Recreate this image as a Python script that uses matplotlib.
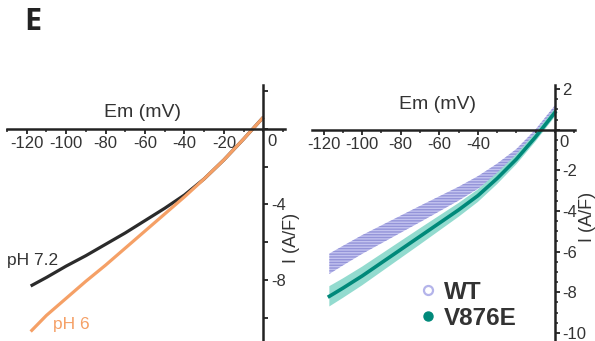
import numpy as np
import matplotlib
matplotlib.use("Agg")
import matplotlib.pyplot as plt
from matplotlib.lines import Line2D
from matplotlib.ticker import MultipleLocator

plt.rcParams['font.family'] = ['Liberation Sans', 'DejaVu Sans']

# ---------------- data ----------------
v_left = [-118, -110, -100, -90, -80, -70, -60, -50, -40, -30, -20, -10, 0]
i_ph72 = [-8.3, -7.85, -7.25, -6.7, -6.1, -5.5, -4.85, -4.2, -3.5, -2.65, -1.65, -0.55, 0.6]
i_ph6 = [-10.7, -9.85, -8.95, -8.05, -7.2, -6.3, -5.4, -4.5, -3.6, -2.65, -1.65, -0.55, 0.6]

v_right = [-117, -110, -100, -90, -80, -70, -60, -50, -40, -30, -20, -10, 0]
wt_mean = [-6.6, -6.2, -5.65, -5.15, -4.65, -4.15, -3.65, -3.15, -2.6, -1.95, -1.2, -0.2, 1.0]
wt_sem = [0.5, 0.48, 0.46, 0.44, 0.42, 0.40, 0.37, 0.34, 0.31, 0.28, 0.25, 0.22, 0.2]
mut_mean = [-8.2, -7.8, -7.2, -6.55, -5.9, -5.25, -4.6, -3.95, -3.25, -2.4, -1.45, -0.35, 0.85]
mut_sem = [0.5, 0.48, 0.46, 0.44, 0.42, 0.40, 0.37, 0.34, 0.31, 0.28, 0.25, 0.22, 0.2]

left_xticks = [-120, -100, -80, -60, -40, -20]
right_xticks = [-120, -100, -80, -60, -40]
left_yticks = [2, 0, -2, -4, -6, -8, -10]
left_ylabels = ['', '', '', '-4', '', '-8', '']
right_yticks = [2, 0, -2, -4, -6, -8, -10]
right_ylabels = ['2', '', '-2', '-4', '-6', '-8', '-10']

W, H = 595, 341
fig = plt.figure(figsize=(W / 100, H / 100), dpi=100)

def px_axes(x0, x1, y0, y1):
    return fig.add_axes([x0 / W, 1 - y1 / H, (x1 - x0) / W, (y1 - y0) / H])

AX_COL = '#222222'
TXT_COL = '#333333'

def style(ax, xlim, ylim):
    ax.set_xlim(*xlim)
    ax.set_ylim(*ylim)
    ax.patch.set_alpha(0)
    for s in ['top', 'left']:
        ax.spines[s].set_visible(False)
    ax.spines['bottom'].set_position(('data', 0))
    ax.spines['right'].set_position(('data', 0))
    for s in ['bottom', 'right']:
        ax.spines[s].set_color(AX_COL)
        ax.spines[s].set_linewidth(1.8)
    ax.yaxis.set_ticks_position('right')
    ax.xaxis.set_ticks_position('bottom')
    ax.tick_params(axis='both', which='major', direction='out', length=3.5, width=1.3,
                   color=AX_COL, labelsize=12, labelcolor=TXT_COL, pad=2)
    ax.tick_params(axis='both', which='minor', direction='out', length=2.2, width=1.1, color=AX_COL)

# ---------------- left panel ----------------
axL = px_axes(7, 285, 85, 341)
style(axL, (-130, 11), (-11.2, 2.3))
axL.set_xticks(left_xticks)
axL.set_xticklabels([str(t) for t in left_xticks])
axL.xaxis.set_minor_locator(MultipleLocator(10))
axL.set_yticks(left_yticks)
axL.set_yticklabels(left_ylabels)
axL.plot(v_left, i_ph72, color='#2b2b2b', lw=2.3, solid_capstyle='butt')
axL.plot(v_left, i_ph6, color='#f5a066', lw=2.3, solid_capstyle='butt')
axL.annotate('0', xy=(0, 0), xytext=(3, -4), textcoords='offset points',
             ha='left', va='top', fontsize=12, color=TXT_COL)

fig.text(143 / W, 1 - 113 / H, 'Em (mV)', ha='center', va='center', fontsize=14, color=TXT_COL)
fig.text(291 / W, 1 - 238 / H, 'I (A/F)', ha='center', va='center', rotation=90, fontsize=13, color=TXT_COL)
fig.text(7 / W, 1 - 261 / H, 'pH 7.2', ha='left', va='center', fontsize=12.5, color=TXT_COL)
fig.text(53 / W, 1 - 325 / H, 'pH 6', ha='left', va='center', fontsize=12.5, color='#f5a066')

# ---------------- right panel ----------------
axR = px_axes(312, 575, 85, 341)
style(axR, (-126, 10.4), (-10.4, 2.2))
axR.set_xticks(right_xticks)
axR.set_xticklabels([str(t) for t in right_xticks])
axR.xaxis.set_minor_locator(MultipleLocator(10))
axR.set_yticks(right_yticks)
axR.set_yticklabels(right_ylabels)
axR.yaxis.set_minor_locator(MultipleLocator(0.5))

v = np.array(v_right)
wm, ws = np.array(wt_mean), np.array(wt_sem)
mm, ms = np.array(mut_mean), np.array(mut_sem)
axR.fill_between(v, wm - ws, wm + ws, facecolor='#c3c3ef', edgecolor='#9494d9',
                 hatch='------', linewidth=0)
axR.fill_between(v, mm - ms, mm + ms, facecolor='#93dbcf', edgecolor='none')
axR.plot(v, mm, color='#00897a', lw=2.6)
axR.annotate('0', xy=(0, 0), xytext=(3, -4), textcoords='offset points',
             ha='left', va='top', fontsize=12, color=TXT_COL)

fig.text(437 / W, 1 - 105 / H, 'Em (mV)', ha='center', va='center', fontsize=14, color=TXT_COL)
fig.text(587 / W, 1 - 217 / H, 'I (A/F)', ha='center', va='center', rotation=90, fontsize=13, color=TXT_COL)

handles = [Line2D([], [], ls='none', marker='o', ms=6.5, mfc='white', mec='#b4b4ea', mew=1.6),
           Line2D([], [], ls='none', marker='o', ms=6.5, mfc='#00897a', mec='#00897a')]
fig.legend(handles, ['WT', 'V876E'], loc='upper left', bbox_to_anchor=(416 / W, 1 - 281 / H),
           frameon=False, handletextpad=0.15, labelspacing=0.12, handlelength=1.0,
           borderpad=0, borderaxespad=0,
           prop={'size': 17.5, 'weight': 'bold'}, labelcolor='#333333')

fig.text(24 / W, 1 - 22 / H, 'E', ha='left', va='center', fontsize=22, color='#222222',
         family=['Open Sans', 'DejaVu Sans'], weight='bold')

fig.savefig('out.png', dpi=100)
